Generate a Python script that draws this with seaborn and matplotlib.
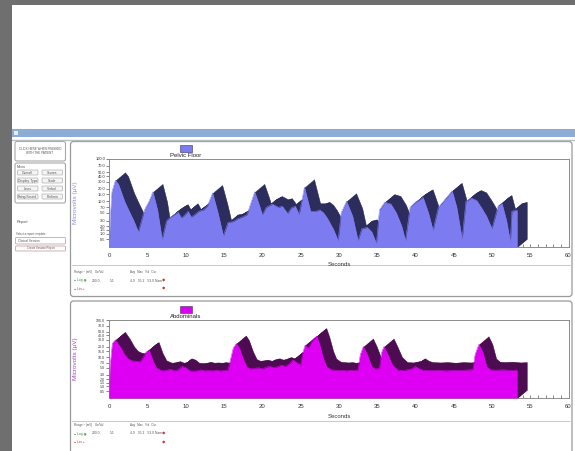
import numpy as np
import seaborn as sns
import matplotlib.pyplot as plt
from matplotlib.patches import Rectangle, FancyBboxPatch
from matplotlib.transforms import offset_copy

sns.set_theme(style='white')
plt.rcParams['font.family'] = ['Liberation Sans', 'DejaVu Sans']

# Pelvic Floor channel (seconds, microvolts)
pf_t = [0.0, 0.15, 0.35, 0.8, 1.2, 2.0, 2.7, 3.2, 3.8, 4.6, 5.2, 5.7, 6.3, 6.9, 7.5, 8.0, 8.5,
        9.0, 9.4, 9.8, 10.3, 10.7, 11.2, 11.7, 12.3, 12.8, 13.5, 14.2, 14.9, 15.5, 16.2, 16.8,
        17.5, 18.0, 19.0, 19.6, 20.0, 20.5, 21.3, 22.1, 22.6, 23.3, 23.8, 24.3, 24.8, 25.1,
        25.5, 26.3, 27.0, 27.5, 28.0, 28.5, 29.3, 29.9, 30.3, 31.0, 31.8, 32.5, 33.0, 33.7,
        34.3, 34.9, 35.3, 36.0, 36.8, 37.5, 38.2, 38.7, 39.3, 40.0, 41.0, 41.7, 42.3, 43.0,
        44.0, 44.8, 45.4, 46.1, 46.6, 47.3, 48.0, 48.7, 49.3, 50.0, 50.8, 51.3, 51.9, 52.4,
        52.6, 53.3]
pf_v = [0.0, 4.0, 17.0, 32.0, 26.0, 10.0, 5.0, 3.0, 1.2, 6.0, 10.0, 17.0, 6.0, 0.5, 3.0, 3.8,
        4.5, 5.2, 3.6, 4.2, 5.5, 3.8, 4.5, 5.5, 6.0, 7.5, 16.0, 5.0, 0.8, 2.6, 2.8, 3.4, 3.9,
        4.5, 17.0, 8.0, 4.4, 7.0, 8.5, 7.0, 7.5, 4.8, 6.8, 7.5, 4.5, 9.0, 22.0, 5.5, 5.5, 6.0,
        5.0, 3.5, 1.5, 0.4, 5.0, 10.0, 4.0, 0.4, 1.6, 1.8, 1.2, 0.2, 6.0, 9.5, 8.5, 5.0, 2.0,
        0.4, 7.0, 9.5, 12.5, 5.0, 1.4, 7.0, 12.0, 18.0, 7.0, 0.5, 10.0, 12.0, 10.5, 6.5, 4.0,
        1.6, 7.6, 9.0, 3.0, 0.3, 5.5, 6.0]

# Abdominals channel (seconds, microvolts)
ab_t = [0.0, 0.1, 0.4, 0.8, 1.4, 2.0, 2.5, 3.0, 3.5, 4.0, 4.3, 4.8, 5.2, 5.7, 6.2, 6.7, 7.0,
        7.5, 8.0, 8.5, 9.0, 9.5, 10.0, 10.5, 11.0, 11.5, 12.0, 12.5, 13.0, 13.5, 14.0, 14.5,
        15.0, 15.5, 15.8, 16.2, 16.6, 17.0, 17.5, 18.0, 18.5, 19.0, 19.5, 20.0, 20.5, 21.0,
        21.5, 22.0, 22.5, 23.0, 23.5, 24.0, 24.5, 25.0, 25.3, 25.6, 26.0, 26.5, 27.1, 27.5,
        28.0, 28.4, 29.0, 29.5, 30.0, 30.5, 31.0, 31.5, 32.0, 32.5, 32.8, 33.2, 33.7, 34.3,
        34.8, 35.3, 35.6, 35.9, 36.4, 37.0, 37.7, 38.5, 39.5, 40.0, 40.5, 41.0, 42.0, 43.0,
        44.0, 45.0, 46.0, 47.0, 47.5, 47.8, 48.3, 48.8, 49.3, 49.8, 50.5, 51.5, 52.5, 53.3]
ab_v = [0.0, 5.0, 24.0, 30.0, 20.0, 12.0, 9.0, 8.0, 7.8, 7.5, 9.0, 14.0, 16.0, 8.0, 4.8, 4.2,
        4.0, 4.2, 4.5, 4.0, 4.3, 5.5, 5.0, 4.0, 3.9, 4.0, 4.3, 4.0, 4.1, 4.0, 4.2, 4.0, 4.1,
        4.2, 8.0, 18.0, 24.0, 18.0, 9.0, 5.2, 4.6, 4.8, 5.0, 4.6, 5.2, 5.5, 5.0, 5.4, 6.0, 5.5,
        6.5, 8.5, 7.0, 6.0, 14.0, 22.0, 18.0, 28.0, 38.0, 22.0, 9.0, 5.4, 4.3, 4.2, 4.1, 4.2,
        4.0, 4.2, 4.1, 4.3, 12.0, 20.0, 12.0, 5.4, 4.5, 5.0, 14.0, 20.0, 12.0, 6.0, 4.2, 4.1,
        4.6, 5.5, 4.6, 4.2, 4.1, 4.2, 4.0, 4.2, 4.1, 4.3, 4.4, 12.0, 23.0, 14.0, 5.4, 4.3, 4.2,
        4.3, 4.1, 4.2]

y_ticks = [100, 70, 50, 40, 30, 20, 15, 10, 7, 5, 3, 2, 1.5, 1, 0.5]
x_ticks = list(range(0, 61, 5))

W, H = 575, 451
fig = plt.figure(figsize=(W / 100, H / 100), dpi=100)

# screen background drawn in pixel coordinates
bg = fig.add_axes([0, 0, 1, 1])
bg.set_xlim(0, W)
bg.set_ylim(H, 0)
bg.axis('off')
gray = '#6f6f6f'
bg.add_patch(Rectangle((0, 0), W, 5, color=gray, lw=0))
bg.add_patch(Rectangle((0, 0), 12, H, color=gray, lw=0))
bg.add_patch(Rectangle((12, 129), W - 12, 8, color='#8eadd6', lw=0))
bg.add_patch(Rectangle((13.5, 130.5), 4, 4, color='#e8eef8', lw=0))
bg.plot([12, W], [139.5, 139.5], color='#b8bcc4', lw=1)


def box(x0, y0, x1, y1, ec='#a8a8a8', lw=0.8, fc='none', r=2):
    bg.add_patch(FancyBboxPatch((x0, y0), x1 - x0, y1 - y0,
                                boxstyle=f'round,pad=0,rounding_size={r}',
                                ec=ec, fc=fc, lw=lw))


def tiny(x, y, s, size=2.6, **kw):
    bg.text(x, y, s, fontsize=size, va='center', color=kw.pop('color', '#555555'), **kw)


# left control column
box(15, 141.5, 65.5, 161)
tiny(40, 149, 'CLICK HERE WHEN FINISHED', size=2.2, ha='center')
tiny(40, 153.5, 'WITH THE PATIENT', size=2.2, ha='center')
box(15, 163, 65.5, 203)
tiny(17, 166.5, 'Menu', size=2.6)
btn_labels = [['Overall', 'Scores'], ['Display Type', 'Scale'],
              ['Lines', 'Verbal'], ['Firing/Sound', 'Perform']]
for r, row in enumerate(btn_labels):
    for c, lab in enumerate(row):
        x0 = 17.5 + c * 24.5
        y0 = 170 + r * 8
        box(x0, y0, x0 + 20.5, y0 + 5, ec='#b0b0b0', lw=0.5, fc='#f4f4f4', r=1)
        tiny(x0 + 10.25, y0 + 2.6, lab, size=2.4, ha='center')
tiny(16.5, 221.5, 'Report', size=2.8)
tiny(16.5, 234.5, 'Select a report template', size=2.0)
box(15.5, 237.5, 65.5, 244, ec='#c09090', lw=0.5, r=1)
tiny(18, 240.8, 'Clinical Session', size=2.2)
box(15.5, 246, 65.5, 251, ec='#c09090', lw=0.5, r=1)
tiny(40.5, 248.5, 'Create Session Report', size=2.0, ha='center')

# chart panels
box(70.5, 141.5, 572, 296.5, ec='#9a9a9a', lw=0.9, r=3)
bg.plot([72, 570], [264.5, 264.5], color='#c8c8c8', lw=0.7)
box(70.5, 301, 572, 458, ec='#9a9a9a', lw=0.9, r=3)
bg.plot([72, 570], [420.5, 420.5], color='#c8c8c8', lw=0.7)


def controls(y0):
    tiny(73.5, y0, 'Range ~ (mV)', size=2.1)
    tiny(95, y0, 'Cur/Val', size=2.1)
    tiny(130, y0, 'Avg   Max   %d   Dur', size=2.1)
    tiny(74, y0 + 8.5, '\u25cf Log \u25c9', size=2.4, color='#3a8a3a')
    tiny(92, y0 + 8.5, '200.0', size=2.4)
    tiny(110, y0 + 8.5, '5.1', size=2.4)
    tiny(130, y0 + 8.5, '4.9   35.2   53.0 Nam', size=2.4)
    tiny(162, y0 + 8.5, '\u25c6', size=3.2, color='#cc3333')
    tiny(74, y0 + 17, '\u25cf Lin \u25cb', size=2.4, color='#cc3333')
    tiny(162, y0 + 17, '\u25c6', size=3.2, color='#cc3333')


controls(272)
controls(425)


def yfwd(v):
    return np.log10(1 + np.clip(v, 0, None))


def yinv(u):
    return 10 ** u - 1


def channel(top, bottom, t, v, front, dark, name, lab_color, tick_fs):
    x0, x1 = 109.3, 568.5
    ax = fig.add_axes([x0 / W, 1 - bottom / H, (x1 - x0) / W, (bottom - top) / H])
    ax.set_facecolor('white')
    ax.set_yscale('function', functions=(yfwd, yinv))
    ax.set_xlim(0, 60)
    ax.set_ylim(0, 100)
    # depth of the 3-D ribbon: sweep the area up and to the right
    for k in np.linspace(1, 0.05, 14):
        tr = offset_copy(ax.transData, fig=fig, x=9.5 * k, y=8 * k, units='dots')
        ax.fill_between(t, 0, v, color=dark, lw=0.4, ec=dark, transform=tr, zorder=2)
    ax.fill_between(t, 0, v, color=front, lw=0, zorder=3)
    sns.lineplot(x=t, y=v, ax=ax, color=front, lw=0.4, zorder=3)
    ax.set_xticks(x_ticks)
    ax.set_xticklabels([str(s) for s in x_ticks], fontsize=4.3, color='#333333')
    ax.set_xticks(range(0, 61), minor=True)
    ax.tick_params(axis='x', which='both', direction='in', length=2.5, width=0.5,
                   color='#555555', pad=4, bottom=True)
    ax.set_yticks(y_ticks)
    ax.set_yticklabels(['%.1f' % s for s in y_ticks], fontsize=tick_fs, color='#333333')
    ax.yaxis.set_minor_locator(plt.NullLocator())
    ax.tick_params(axis='y', which='both', direction='out', length=2, width=0.5,
                   color='#555555', pad=1, left=True)
    for s in ax.spines.values():
        s.set_color('#8c8c8c')
        s.set_linewidth(0.7)
    ax.set_xlabel('Seconds', fontsize=4.3, color='#333333')
    ax.xaxis.set_label_coords(0.5, -0.17 if bottom - top > 85 else -0.2)
    ax.set_ylabel('Microvolts (\u00b5V)', fontsize=4.6, color=lab_color)
    ax.yaxis.set_label_coords(-0.068, 0.5)
    ax.grid(False)
    # legend swatch above the plot
    bg.add_patch(Rectangle((180, top - 14), 11.5, 6.5, fc=front, ec='#333366', lw=0.4))
    bg.text(186, top - 3.5, name, fontsize=4.3, ha='center', va='center', color='#222222')
    return ax


channel(159, 247, pf_t, pf_v, '#7c7cf0', '#2c2d5c', 'Pelvic Floor', '#8c8ce0', 2.9)
channel(320, 398, ab_t, ab_v, '#de00f2', '#4d0b52', 'Abdominals', '#b040c8', 2.6)

fig.savefig('out.png', dpi=100)
